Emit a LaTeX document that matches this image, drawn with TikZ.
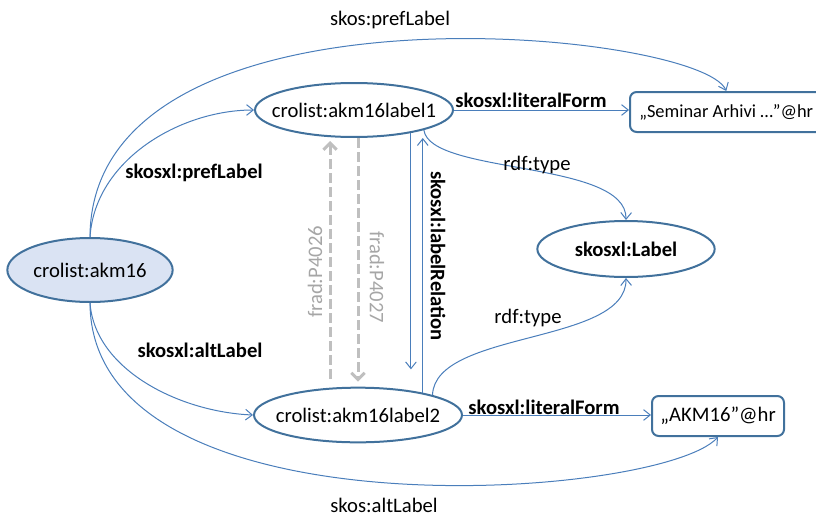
\documentclass[tikz,border=0pt]{standalone}
\usepackage{fontspec}
\setmainfont{Carlito}
\usepackage{xcolor}
\usetikzlibrary{shapes.geometric,arrows.meta,calc}

\definecolor{nodeblue}{HTML}{41719C}
\definecolor{edgeblue}{HTML}{4A7EBB}
\definecolor{fillblue}{HTML}{DAE3F3}
\definecolor{fradgray}{HTML}{BFBFBF}
\definecolor{fradtext}{HTML}{A6A6A6}

\begin{document}
\begin{tikzpicture}[x=0.75pt, y=-0.75pt,
    font=\fontsize{15.5}{18}\selectfont,
    res/.style={ellipse, draw=nodeblue, line width=1.5pt, inner sep=0pt},
    lit/.style={rectangle, rounded corners=5pt, draw=nodeblue, line width=1.5pt, inner sep=0pt, minimum height=30pt},
    rel/.style={draw=edgeblue, line width=0.75pt, -{Straight Barb[length=5pt,width=8pt]}},
    frad/.style={draw=fradgray, line width=2.25pt, dash pattern=on 7.5pt off 3pt, -{Straight Barb[length=5pt,width=10pt]}},
    lbl/.style={inner sep=1pt},
    bold/.style={inner sep=1pt, font=\fontsize{15.5}{18}\selectfont\bfseries}]
    \useasboundingbox (0,0) rectangle (816,517);

    % Resources
    \node[res, fill=fillblue, minimum width=124pt, minimum height=48pt] (akm) at (90,270) {crolist:akm16};
    \node[res, inner xsep=-9.4pt, minimum width=148.5pt, minimum height=40.5pt] (l1) at (354,110) {crolist:akm16label1};
    \node[res, inner xsep=-7.5pt, minimum width=156pt, minimum height=41pt] (l2) at (358,415) {crolist:akm16label2};
    \node[res, minimum width=133pt, minimum height=42pt, font=\fontsize{15.5}{18}\selectfont\bfseries] (lab) at (626,249) {skosxl:Label};

    % Literals
    \node[lit, anchor=west, inner xsep=7pt, font=\fontsize{13.8}{18}\selectfont] (sem) at (629,112) {„Seminar Arhivi …”@hr};
    \node[lit, minimum width=99pt] (akmlit) at (718,416) {„AKM16”@hr};

    % SKOS labels
    \draw[rel] (akm.north) .. controls (91,-30) and (700,30) .. (sem.north);
    \draw[rel] (akm.south) .. controls (91,540) and (660,500) .. (akmlit.south);
    \node[lbl] (tprefl) at (390,20) {skos:prefLabel};
    \node[lbl] (taltl) at (384,505) {skos:altLabel};

    % SKOS-XL labels
    \draw[rel] (akm.north) .. controls (95,160) and (180,110) .. (l1.west);
    \draw[rel] (akm.south) .. controls (95,370) and (180,412) .. (l2.west);
    \node[bold] (txprefl) at (194,173) {skosxl:prefLabel};
    \node[bold] (txaltl) at (200,350) {skosxl:altLabel};

    % Literal forms
    \draw[rel] (l1.east) -- (l1.east -| sem.west);
    \draw[rel] (l2.east) -- (l2.east -| akmlit.west);
    \node[bold] (tlit1) at (531,100) {skosxl:literalForm};
    \node[bold] (tlit2) at (544,407) {skosxl:literalForm};

    % Types
    \draw[rel] (l1.-16) .. controls (430,175) and (627,160) .. (lab.north);
    \draw[rel] (l2.15) .. controls (435,330) and (627,345) .. (lab.south);
    \node[lbl] (ttype1) at (537,165) {rdf:type};
    \node[lbl] (ttype2) at (528,318) {rdf:type};

    % Label relation
    \draw[rel, shorten >=13pt] (l1.-22) -- (l1.-22 |- l2.north);
    \draw[rel] (l2.19) -- (l2.19 |- l1.south);
    \node[bold, rotate=-90] (trel) at (438,256) {skosxl:labelRelation};

    % FRAD relations
    \draw[frad, shorten <=6pt, shorten >=2.25pt] ([xshift=-21pt]l2.north) -- ([xshift=-21pt]l2.north |- l1.south);
    \draw[frad, shorten >=3.75pt] ([xshift=3pt]l1.south) -- ([xshift=3pt]l1.south |- l2.north);
    \node[lbl, fradtext, rotate=90] (tp26) at (315,272) {frad:P4026};
    \node[lbl, fradtext, rotate=-90] (tp27) at (377,277) {frad:P4027};
\end{tikzpicture}
\end{document}
